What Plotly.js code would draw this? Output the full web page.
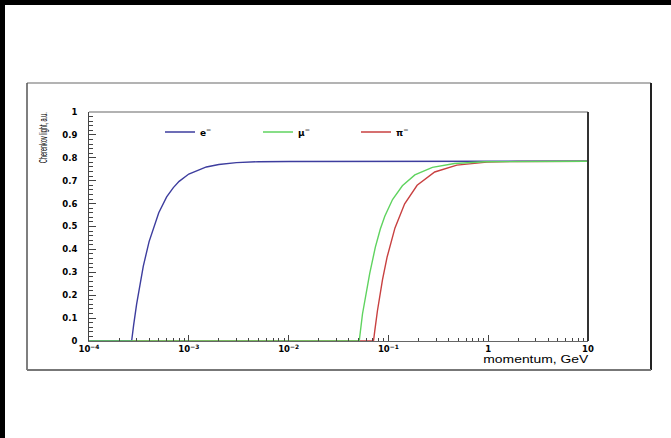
<!DOCTYPE html>
<html>
<head>
<meta charset="utf-8">
<script src="https://cdn.plot.ly/plotly-3.0.1.min.js"></script>
<style>html,body{margin:0;padding:0;background:#fff;}#chart{width:671px;height:438px;}</style>
</head>
<body>
<div id="chart"></div>
<script>
// momentum (GeV) and Cherenkov light (a.u.)
const momElectron = [1e-4, 2.674e-4, 2.8e-4, 3e-4, 3.5e-4, 4e-4, 5e-4, 6e-4, 7e-4, 8e-4, 1e-3, 1.5e-3, 2e-3, 3e-3, 5e-3, 1e-2, 10];
const lightElectron = [0, 0, 0.069, 0.161, 0.327, 0.434, 0.560, 0.629, 0.670, 0.697, 0.729, 0.760, 0.771, 0.779, 0.783, 0.784, 0.785];

const momMuon = [1e-4, 0.051, 0.055, 0.06, 0.065, 0.074, 0.083, 0.092, 0.11, 0.138, 0.184, 0.276, 0.46, 0.92, 1.84, 10];
const lightMuon = [0, 0, 0.118, 0.217, 0.295, 0.410, 0.489, 0.545, 0.618, 0.678, 0.725, 0.758, 0.775, 0.783, 0.784, 0.785];

const momPion = [1e-4, 0.0709, 0.0728, 0.0776, 0.0873, 0.097, 0.1164, 0.1455, 0.194, 0.291, 0.485, 0.97, 1.94, 10];
const lightPion = [0, 0, 0.040, 0.131, 0.268, 0.366, 0.494, 0.599, 0.680, 0.738, 0.768, 0.781, 0.784, 0.785];

const seriesNames = ["e<sup>\u2212</sup>", "\u03bc<sup>\u2212</sup>", "\u03c0<sup>\u2212</sup>"];

const xTickVals = [1e-4, 1e-3, 1e-2, 1e-1, 1, 10];
const xTickText = ["10<sup>\u22124</sup>", "10<sup>\u22123</sup>", "10<sup>\u22122</sup>", "10<sup>\u22121</sup>", "1", "10"];
const yTickVals = [0, 0.1, 0.2, 0.3, 0.4, 0.5, 0.6, 0.7, 0.8, 0.9, 1];
const yTickText = ["0", "0.1", "0.2", "0.3", "0.4", "0.5", "0.6", "0.7", "0.8", "0.9", "1"];

const xTitle = "momentum, GeV";
const yTitle = "Cherenkov light, a.u.";

const cBlue = "#3d3d9e", cGreen = "#5fd35f", cRed = "#c84040";

const traces = [
  {x: momPion, y: lightPion, name: seriesNames[2], legendrank: 3, mode: "lines", line: {color: cRed, width: 1.4}},
  {x: momElectron, y: lightElectron, name: seriesNames[0], legendrank: 1, mode: "lines", line: {color: cBlue, width: 1.4}},
  {x: momMuon, y: lightMuon, name: seriesNames[1], legendrank: 2, mode: "lines", line: {color: cGreen, width: 1.4}}
];

// plot area: x 89..588, y 112..341 px
const L = 89, R = 588, T = 112, B = 341, W = 671, H = 438;
const px = v => (v - L) / (R - L);
const py = v => (B - v) / (B - T);

const tickFont = {family: "DejaVu Sans, Liberation Sans, sans-serif", size: 8.5, color: "#000", weight: "bold"};

const layout = {
  width: W, height: H,
  margin: {l: L, r: W - R, t: T, b: H - B, pad: 0},
  paper_bgcolor: "#fff", plot_bgcolor: "#fff",
  showlegend: true,
  legend: {orientation: "h", x: px(160), y: py(132), xanchor: "left", yanchor: "middle",
           bgcolor: "rgba(0,0,0,0)", font: {family: "DejaVu Sans, Liberation Sans, sans-serif", size: 9, color: "#000", weight: "bold"},
           entrywidth: 53, entrywidthmode: "pixels", itemwidth: 30, traceorder: "normal"},
  xaxis: {type: "log", range: [-4, 1], tickvals: xTickVals, ticktext: xTickText, tickfont: tickFont,
          ticks: "inside", ticklen: 6, tickwidth: 1, tickcolor: "#444",
          minor: {ticks: "inside", ticklen: 3, tickwidth: 1, tickcolor: "#444", dtick: "D1", showgrid: false},
          showline: true, linecolor: "#666", linewidth: 1, mirror: false, showgrid: false, zeroline: false,
          ticklabelstandoff: 0, fixedrange: true},
  yaxis: {range: [0, 1], tickvals: yTickVals, ticktext: yTickText, tickfont: tickFont,
          ticks: "inside", ticklen: 7, tickwidth: 1, tickcolor: "#444",
          minor: {ticks: "inside", ticklen: 3.5, tickwidth: 1, tickcolor: "#444", dtick: 0.02, showgrid: false},
          showline: true, linecolor: "#444", linewidth: 1, mirror: false, showgrid: false, zeroline: false,
          ticklabelstandoff: 9, fixedrange: true},
  annotations: [
    {text: yTitle, xref: "paper", yref: "paper", x: px(43), y: py(137.5), xanchor: "center", yanchor: "middle",
     textangle: -90, showarrow: false, font: {family: "Liberation Sans, Arial, sans-serif", size: 10, color: "#000"}},
    {text: xTitle, xref: "paper", yref: "paper", x: px(535.5), y: py(359), xanchor: "center", yanchor: "middle",
     showarrow: false, font: {family: "Liberation Sans, Arial, sans-serif", size: 10, color: "#000"}}
  ],
  shapes: [
    // black edges of the picture
    {type: "rect", xref: "paper", yref: "paper", x0: px(0), x1: px(W), y0: py(0), y1: py(5), fillcolor: "#000", line: {width: 0}},
    {type: "rect", xref: "paper", yref: "paper", x0: px(0), x1: px(5), y0: py(0), y1: py(H), fillcolor: "#000", line: {width: 0}},
    // outer canvas frame
    {type: "line", xref: "paper", yref: "paper", x0: px(27), x1: px(651), y0: py(83), y1: py(83), line: {color: "#9a9a9a", width: 1.5}},
    {type: "line", xref: "paper", yref: "paper", x0: px(27), x1: px(27), y0: py(83), y1: py(370), line: {color: "#555", width: 1.5}},
    {type: "line", xref: "paper", yref: "paper", x0: px(651), x1: px(651), y0: py(83), y1: py(370), line: {color: "#222", width: 2}},
    {type: "line", xref: "paper", yref: "paper", x0: px(27), x1: px(651), y0: py(370), y1: py(370), line: {color: "#777", width: 2}},
    // plot frame top and right
    {type: "line", xref: "paper", yref: "paper", x0: 0, x1: 1, y0: 1, y1: 1, line: {color: "#999", width: 1.5}},
    {type: "line", xref: "paper", yref: "paper", x0: 1, x1: 1, y0: 0, y1: 1, line: {color: "#333", width: 2}}
  ]
};

function squeezeTitles() {
  document.querySelectorAll("#chart .annotation-text").forEach(t => {
    if (t.textContent === yTitle) {
      t.setAttribute("textLength", "51");
      t.setAttribute("lengthAdjust", "spacingAndGlyphs");
    } else if (t.textContent === xTitle) {
      t.setAttribute("textLength", "105");
      t.setAttribute("lengthAdjust", "spacingAndGlyphs");
    }
  });
}

Plotly.newPlot("chart", traces, layout, {displayModeBar: false}).then(squeezeTitles);
</script>
</body>
</html>
